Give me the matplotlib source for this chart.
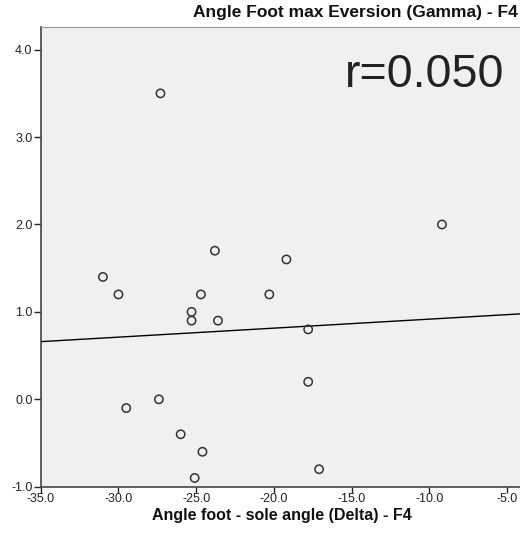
import numpy as np
import matplotlib
matplotlib.use("Agg")
import matplotlib.pyplot as plt

# data
delta = [-31.0, -30.0, -24.7, -20.3, -23.8, -19.2, -25.3, -25.3, -23.6,
         -17.8, -17.8, -29.5, -27.4, -26.0, -24.6, -25.1, -17.1, -27.3, -9.2]
gamma = [1.4, 1.2, 1.2, 1.2, 1.7, 1.6, 1.0, 0.9, 0.9,
         0.8, 0.2, -0.1, 0.0, -0.4, -0.6, -0.9, -0.8, 3.5, 2.0]
x_ticks = [-35.0, -30.0, -25.0, -20.0, -15.0, -10.0, -5.0]
y_ticks = [-1.0, 0.0, 1.0, 2.0, 3.0, 4.0]

plt.rcParams['font.family'] = ['Liberation Sans', 'DejaVu Sans']

fig = plt.figure(figsize=(5.2, 5.39), dpi=100)
ax = fig.add_axes([0.0783, 0.097, 0.9217, 0.8535])
ax.set_facecolor('#f0f0f0')

ax.scatter(delta, gamma, s=36, facecolors='none', edgecolors='#333333',
           linewidths=1.1, zorder=3)

# linear fit line across the axis range
xlim = (-35.0, -4.18)
k, b = np.polyfit(delta, gamma, 1)
xs = np.array(xlim)
ax.plot(xs, k * xs + b, color='black', lw=1.0, zorder=2)

ax.set_xlim(*xlim)
ax.set_ylim(-1.0, 4.263)
ax.set_xticks(x_ticks)
ax.set_yticks(y_ticks)
ax.set_xticklabels([f'{v:.1f}' for v in x_ticks])
ax.set_yticklabels([f'{v:.1f}' for v in y_ticks])
ax.tick_params(axis='both', labelsize=9, colors='#222222', width=1.0)
ax.tick_params(axis='x', length=4, pad=0.5)
ax.tick_params(axis='y', length=5, pad=1)

for side in ['left', 'bottom']:
    ax.spines[side].set_color('#444444')
    ax.spines[side].set_linewidth(1.2)
ax.spines['top'].set_color('#999999')
ax.spines['right'].set_visible(False)

ax.text(0.968, 0.895, 'r=0.050', transform=ax.transAxes, ha='right', va='center',
        fontsize=33.5, color='#222222')

fig.text(0.995, 0.976, 'Angle Foot max Eversion (Gamma) - F4', ha='right',
         va='center', fontsize=12.5, fontweight='bold', color='#111111')
fig.text(0.543, 0.043, 'Angle foot - sole angle (Delta) - F4', ha='center',
         va='center', fontsize=11.5, fontweight='bold', color='#111111')

fig.savefig('out.png', dpi=100)
